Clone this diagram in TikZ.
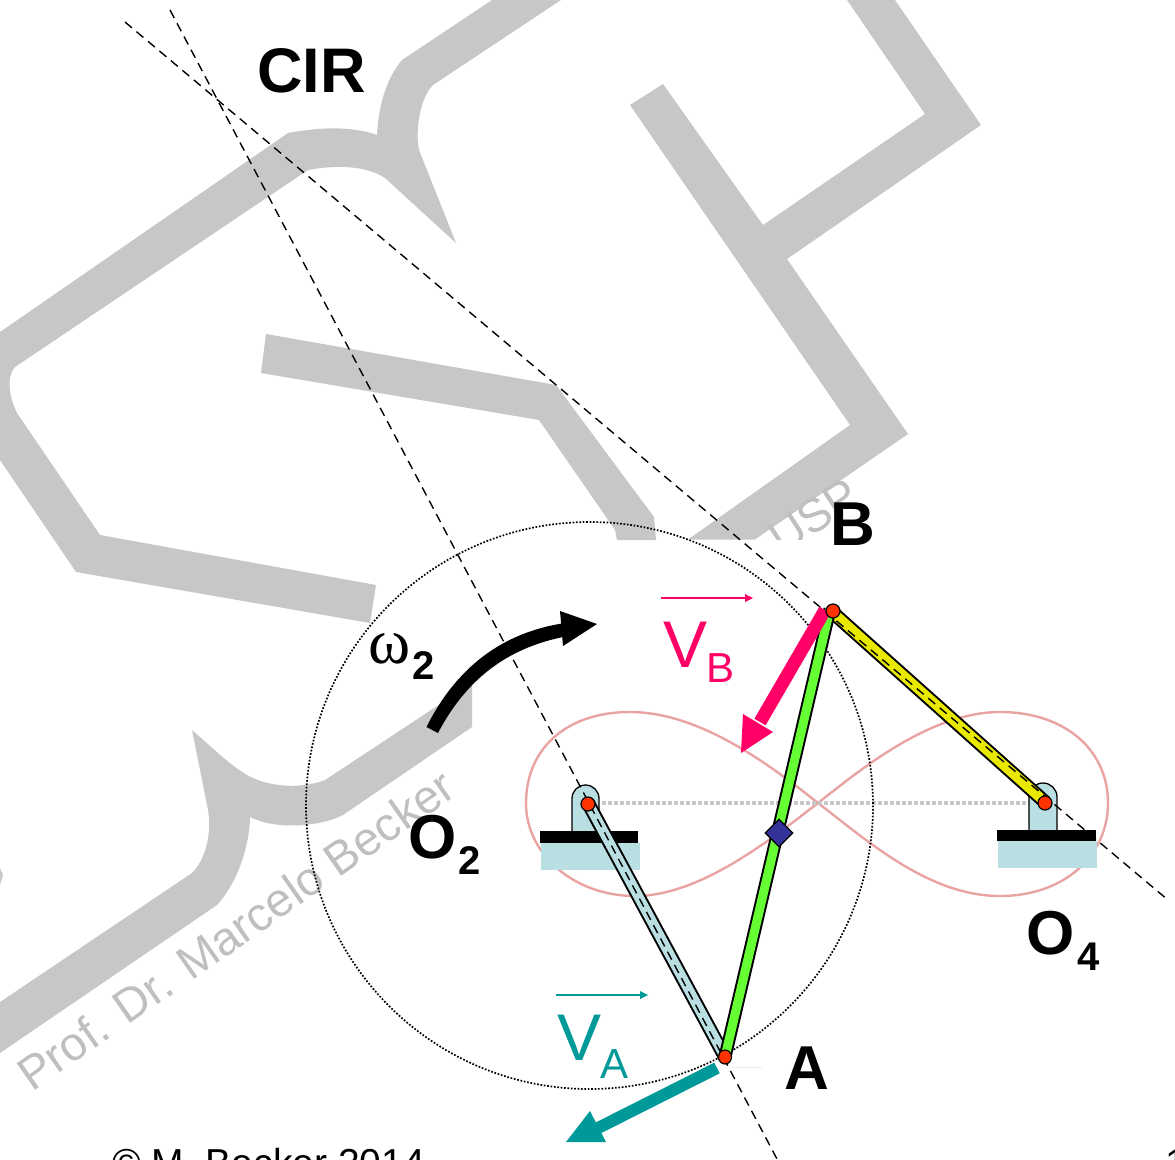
\documentclass[tikz,border=0pt]{standalone}
\usepackage{fontspec}
\usetikzlibrary{calc,shapes.geometric}
\setmainfont{Liberation Sans}
\newfontfamily\serifw{Liberation Serif}
\definecolor{wm}{HTML}{C8C7C5}
\definecolor{wmtext}{HTML}{BFBFBF}
\definecolor{pale}{HTML}{B9DFE2}
\definecolor{lime}{HTML}{66FF33}
\definecolor{yel}{HTML}{E8E800}
\definecolor{redpin}{HTML}{FF3300}
\definecolor{navy}{HTML}{333399}
\definecolor{pinkv}{HTML}{FF0066}
\definecolor{tealv}{HTML}{009999}
\definecolor{coupler}{HTML}{E9A3A3}
\newcommand{\fs}[1]{\fontsize{#1}{#1}\selectfont}
\tikzset{
 wmshape/.style={fill=wm,draw=none},
 label big/.style={inner sep=0pt,anchor=base west,font=\bfseries\fs{62}},
 speed/.style={inner sep=0pt,anchor=base west,font=\fs{66}},
 wmlabel/.style={inner sep=0pt,anchor=base west,text=wmtext,font=\fs{47}},
 pin/.style={fill=redpin,draw=black,line width=1.2pt},
 base bar/.style={fill=black,draw=none},
 base fill/.style={fill=pale,draw=none},
 clevis/.style={fill=pale,draw=black,line width=1.3pt},
 center line/.style={black,line width=1.4pt,dash pattern=on 9pt off 6pt},
}
\begin{document}
\begin{tikzpicture}[x=1pt,y=-1pt]
\clip (0,0) rectangle (1175,1159);
% named points
\coordinate (O2) at (588,803);
\coordinate (O4) at (1045,802);
\coordinate (A) at (725,1057);
\coordinate (B) at (831,611);
\coordinate (C) at (589.5,805.5);
\coordinate (L1a) at (170,10);
\coordinate (L1b) at (777,1159);
\coordinate (L2a) at (125,22);
\coordinate (L2b) at (1168,900);
% watermark
\fill[wmshape] (0,332) -- (288,133) .. controls (315,128) and (350,125) .. (377,135)
 .. controls (378,110) and (385,80) .. (402,60) -- (492,0) -- (561,0) -- (433,85)
 .. controls (420,98) and (415,130) .. (419,150) -- (456,243) -- (385,178)
 .. controls (365,165) and (335,165) .. (308,170) -- (15,367)
 .. controls (7,375) and (8,395) .. (17,413) -- (100,535) -- (376,585) -- (370,623)
 -- (76,572) -- (0,460) -- cycle;
\fill[wmshape] (266,334) -- (556,385) -- (654,517) -- (656,540) -- (617,540) -- (615,530)
 -- (539,420) -- (261,373) -- cycle;
\fill[wmshape] (847,0) -- (925,114) -- (763,225) -- (663,84) -- (630,105) -- (850,425)
 -- (688,539.5) -- (755,539.5) -- (908,434) -- (787,259) -- (981,125) -- (895,0) -- cycle;
\fill[wmshape] (192,730) .. controls (215,750) and (235,770) .. (253,778)
 .. controls (275,788) and (305,788) .. (325,780) -- (472,683) -- (472,727) -- (343,815)
 .. controls (320,827) and (275,830) .. (250,817) .. controls (250,840) and (240,880) .. (217,905)
 -- (0,1053) -- (0,1002) -- (192,873) .. controls (205,860) and (212,835) .. (208,810) -- cycle;
\fill[wmshape] (0,868) -- (3,875) -- (0,885) -- cycle;
\node[wmlabel,rotate=35] (wmname) at (32,1093) {Prof. Dr. Marcelo Becker};
\begin{scope}
\clip (700,470) rectangle (900,539.5);
\node[wmlabel,rotate=33] (wmusp) at (782,556) {USP};
\end{scope}
% coupler curve and centre line
\draw[coupler,line width=2.4pt] (818,803) .. controls (770,765) and (700,712) .. (630,712)
 .. controls (565,712) and (526,750) .. (526,803) .. controls (526,855) and (575,896) .. (635,896)
 .. controls (700,896) and (770,840) .. (818,803) .. controls (860,770) and (930,712) .. (1000,712)
 .. controls (1065,712) and (1108,750) .. (1108,803) .. controls (1108,855) and (1065,896) .. (1000,896)
 .. controls (930,896) and (870,843) .. cycle;
\draw[black!22,line width=4.5pt,dash pattern=on 3.5pt off 2.5pt] ($(O2)+(14,0)$) -- ($(O4)+(-14,1)$);
% circle
\draw[black,line width=1.7pt,dash pattern=on 1.7pt off 1.7pt] (C) circle (283.5);
% supports
\fill[base fill] (541,843) rectangle (640,870);
\draw[clevis] (572,831) -- (572,798.5) arc (180:360:13.5) -- (599,831);
\fill[base bar] (540,831) rectangle (638,843);
\fill[base fill] (998,841) rectangle (1097,868);
\draw[clevis] (1029,830) -- (1029,797) arc (180:360:14) -- (1057,830);
\fill[base bar] (997,830) rectangle (1096,841);
% links
\draw[black,line width=14pt] (O2) -- (A);
\draw[pale,line width=10pt] (O2) -- (A);
\draw[black,line width=14pt] (B) -- (O4);
\draw[yel,line width=10pt] (B) -- (O4);
\draw[black,line width=13pt] ($(B)+(-1,-2)$) -- (A);
\draw[lime,line width=9pt] ($(B)+(-1,-2)$) -- (A);
\node[draw=black,fill=navy,line width=1.2pt,diamond,aspect=1,minimum size=28pt,inner sep=0pt] (M) at (779,833) {};
% dashed instantaneous lines
\draw[center line] (L1a) -- (L1b);
\draw[center line] (L2a) -- (L2b);
% omega arrow
\fill[black] (562,623.5) .. controls (510,632) and (460,660) .. (426.5,727) -- (438,733)
 .. controls (470,672) and (515,647) .. (563,637) -- cycle;
\fill[black] (560,611) -- (597,624) -- (563,646) -- cycle;
% velocity arrows
\draw[pinkv,line width=13pt] (825,610) -- (760,722);
\fill[pinkv] (743,714) -- (773,732) -- (741,753) -- cycle;
\draw[tealv,line width=12pt] (717,1068) -- (598,1128);
\fill[tealv] (590,1111) -- (606,1142) -- (566,1142) -- cycle;
\draw[black!8,line width=.8pt] (732,1067) -- (762,1067);
% pins
\draw[pin] (O2) ++(0,1) circle (7);
\draw[pin] (O4) ++(0,1) circle (7);
\draw[pin] (B) ++(2,0) circle (7);
\draw[pin] (A) ellipse (6.5 and 7);
% vector overbars
\coordinate (vba) at (661,598); \coordinate (vbb) at (745,598);
\coordinate (vaa) at (556,995); \coordinate (vab) at (640,995);
\draw[pinkv,line width=1.8pt] (vba) -- (vbb);
\fill[pinkv] (745,594) -- (753,598) -- (745,602) -- cycle;
\draw[tealv,line width=1.8pt] (vaa) -- (vab);
\fill[tealv] (640,991) -- (648,995) -- (640,999) -- cycle;
% labels
\node[label big,font=\bfseries\fs{63}] (cir) at (257,92) {CIR};
\node[label big] (lB) at (830,545) {B};
\node[label big] (lA) at (784,1089) {A};
\node[label big] (lO2) at (408,858) {O};
\node[inner sep=0pt,anchor=base west,font=\bfseries\fs{40}] (lO2s) at (458,874) {2};
\node[label big] (lO4) at (1026,954) {O};
\node[inner sep=0pt,anchor=base west,font=\bfseries\fs{40}] (lO4s) at (1077,970) {4};
\node[inner sep=0pt,anchor=base west,font=\serifw\fs{64}] (lw) at (368,663) {ω};
\node[inner sep=0pt,anchor=base west,font=\bfseries\fs{40}] (lws) at (412,679) {2};
\node[speed,text=pinkv] (lV) at (663,667) {V};
\node[inner sep=0pt,anchor=base west,text=pinkv,font=\fs{42}] (lVs) at (706,682) {B};
\node[speed,text=tealv] (lVA) at (557,1060) {V};
\node[inner sep=0pt,anchor=base west,text=tealv,font=\fs{42}] (lVAs) at (600,1078) {A};
\node[inner sep=0pt,anchor=base west,font=\fs{39}] (copy) at (112,1176) {© M. Becker 2014};
\node[inner sep=0pt,anchor=base west,font=\fs{39}] (page) at (1165,1176) {1};
\end{tikzpicture}
\end{document}
